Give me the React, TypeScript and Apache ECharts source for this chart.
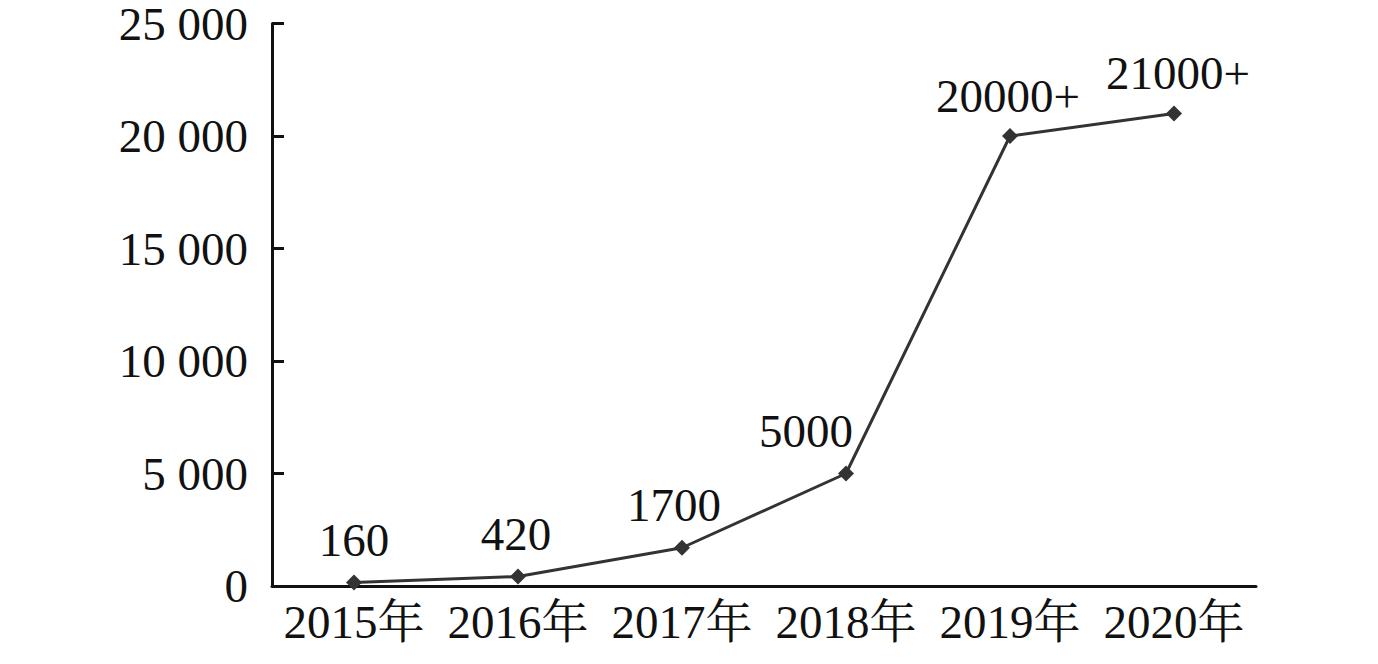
import React, { useEffect, useRef } from "react";
import * as echarts from "echarts";

const categories = ["2015年", "2016年", "2017年", "2018年", "2019年", "2020年"];
const values = [160, 420, 1700, 5000, 20000, 21000];
const pointLabels = ["160", "420", "1700", "5000", "20000+", "21000+"];
const labelOffsets = [[0, 0], [-2, 0], [-8, 0], [-40, 0], [-2, 2], [4, 2]];
const yTicks = [0, 5000, 10000, 15000, 20000, 25000];

const FONT = "'Liberation Serif', 'Noto Serif CJK SC', 'Noto Sans CJK SC', serif";

export default function App() {
  const ref = useRef<HTMLDivElement>(null);
  useEffect(() => {
    if (!ref.current) return;
    const chart = echarts.init(ref.current, null, { renderer: "svg" });
    chart.setOption({
      animation: false,
      backgroundColor: "#ffffff",
      grid: { left: 272, right: 122, top: 23, bottom: 78, containLabel: false },
      xAxis: {
        type: "category",
        data: categories,
        boundaryGap: true,
        axisLine: { lineStyle: { color: "#111", width: 3 } },
        axisTick: { inside: true, length: 12, lineStyle: { color: "#111", width: 2 } },
        axisLabel: { interval: 0, color: "#111", fontSize: 47, fontFamily: FONT, margin: 12 },
      },
      yAxis: {
        type: "value",
        min: yTicks[0],
        max: yTicks[yTicks.length - 1],
        interval: 5000,
        axisLine: { show: true, lineStyle: { color: "#111", width: 3 } },
        axisTick: { show: true, inside: true, length: 12, lineStyle: { color: "#111", width: 3 } },
        splitLine: { show: false },
        axisLabel: {
          color: "#111",
          fontSize: 47,
          lineHeight: 40,
          fontFamily: FONT,
          margin: 24,
          formatter: (v: number) => {
            if (v < 1000) return String(v);
            const th = Math.floor(v / 1000);
            const rest = String(v % 1000).padStart(3, "0");
            return th + " " + rest;
          },
        },
      },
      series: [
        {
          type: "line",
          data: values.map((v, i) => ({
            value: v,
            label: {
              show: true,
              position: "top",
              distance: 11,
              offset: labelOffsets[i],
              formatter: pointLabels[i],
              color: "#111",
              fontSize: 47,
              fontFamily: FONT,
            },
          })),
          symbol: "diamond",
          symbolSize: 16,
          lineStyle: { color: "#333", width: 3 },
          itemStyle: { color: "#333" },
        },
      ],
    });
    return () => chart.dispose();
  }, []);
  return (
    <div
      ref={ref}
      style={{ position: "fixed", left: 0, top: 0, width: 1378, height: 664, background: "#fff" }}
    />
  );
}
